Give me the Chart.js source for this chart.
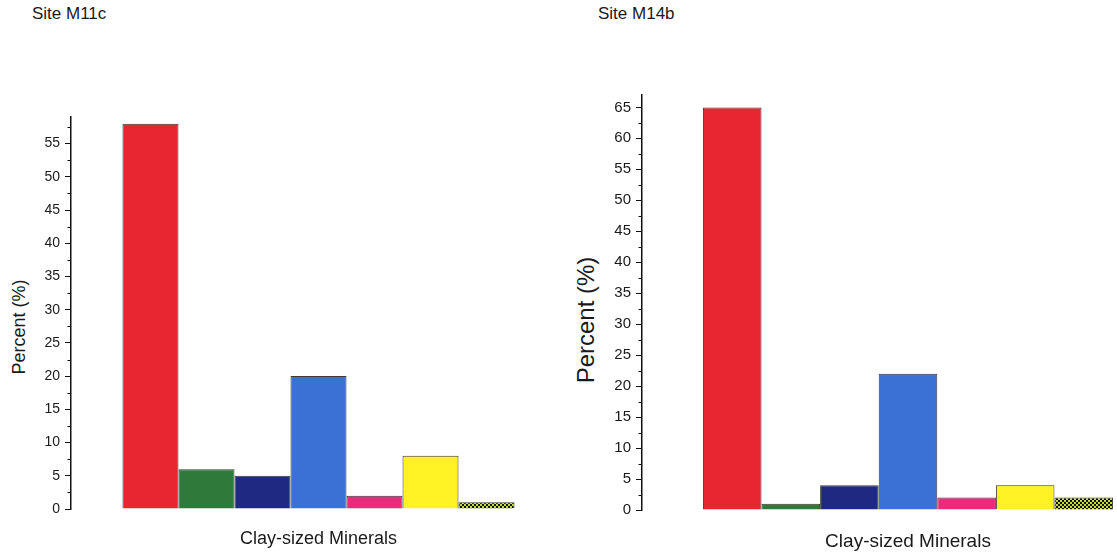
<!DOCTYPE html>
<html>
<head>
<meta charset="utf-8">
<title>Clay-sized Minerals</title>
<script src="https://cdn.jsdelivr.net/npm/chart.js@4.4.1/dist/chart.umd.min.js"></script>
<style>
  html, body { margin: 0; padding: 0; background: #fff; overflow: hidden; }
  body { width: 1117px; height: 554px; position: relative; font-family: "Liberation Sans", Arial, sans-serif; color: #1a1a1a; }
  canvas { position: absolute; top: 0; }
  #m11c { left: 0; }
  #m14b { left: 560px; }
  .site { position: absolute; top: 4px; font-size: 17px; }
  .ytitle { position: absolute; white-space: nowrap; transform: translate(-50%, -50%) rotate(-90deg); }
</style>
</head>
<body>
<div class="site" style="left:32px">Site M11c</div>
<div class="site" style="left:598px">Site M14b</div>
<div class="ytitle" style="left:19px; top:327px; font-size:18px">Percent (%)</div>
<div class="ytitle" style="left:586px; top:320px; font-size:24px">Percent (%)</div>
<canvas id="m11c" width="570" height="554"></canvas>
<canvas id="m14b" width="620" height="554"></canvas>
<script>
// Mineral percentages per site (seven clay-sized mineral classes)
const categories = ['Clay-sized Minerals'];
const mineralNames = ['Mineral A', 'Mineral B', 'Mineral C', 'Mineral D', 'Mineral E', 'Mineral F', 'Mineral G'];
const m11cValues = [58, 6, 5, 20, 2, 8, 1];
const m14bValues = [65, 1, 4, 22, 2, 4, 2];
const m11cAxisMax = 59;
const m14bAxisMax = 67;

// Fill colours, one per mineral class
function dottedPattern() {
  const c = document.createElement('canvas');
  c.width = 4; c.height = 4;
  const g = c.getContext('2d');
  g.fillStyle = '#111111';
  g.fillRect(0, 0, 4, 4);
  g.fillStyle = '#c4dc3c';
  g.fillRect(0, 0, 2, 2);
  g.fillRect(2, 2, 2, 2);
  return g.createPattern(c, 'repeat');
}
const fills = ['#e8262f', '#2e7a3b', '#1e2a82', '#3b70d4', '#ec2a7c', '#fff124', dottedPattern()];

// Half-step minor ticks on the value axis
const minorTicks = {
  id: 'minorTicks',
  afterDraw(chart) {
    const y = chart.scales.y;
    const ctx = chart.ctx;
    const x0 = chart.chartArea.left;
    ctx.save();
    ctx.strokeStyle = '#111';
    ctx.lineWidth = 1;
    for (let v = 2.5; v < y.max; v += 5) {
      const py = Math.round(y.getPixelForValue(v)) + 0.5;
      ctx.beginPath();
      ctx.moveTo(x0 - 3.5, py);
      ctx.lineTo(x0, py);
      ctx.stroke();
    }
    ctx.restore();
  }
};

function makeChart(id, values, axisMax, cfg) {
  return new Chart(document.getElementById(id), {
    type: 'bar',
    data: {
      labels: categories,
      datasets: values.map((v, i) => ({
        label: mineralNames[i],
        data: [v],
        backgroundColor: fills[i],
        borderColor: '#3a3a3a',
        borderWidth: 1,
        borderSkipped: 'start'
      }))
    },
    options: {
      responsive: false,
      animation: false,
      devicePixelRatio: 1,
      categoryPercentage: cfg.catPct,
      barPercentage: 1,
      layout: { padding: { left: 0, right: cfg.padRight, top: cfg.top, bottom: 0 } },
      plugins: { legend: { display: false }, tooltip: { enabled: false } },
      scales: {
        x: {
          grid: { display: false },
          border: { display: false },
          ticks: {
            color: '#1a1a1a',
            padding: cfg.xPad,
            font: { family: 'Liberation Sans', size: cfg.xFont }
          },
          afterFit(s) { s.height = cfg.xHeight; }
        },
        y: {
          min: 0,
          max: axisMax,
          grid: {
            drawOnChartArea: false,
            drawTicks: true,
            tickLength: 6,
            color: '#111',
            tickWidth: 1
          },
          border: { display: true, color: '#111', width: 1.5 },
          ticks: {
            stepSize: 5,
            includeBounds: false,
            color: '#1a1a1a',
            padding: 5,
            font: { family: 'Liberation Sans', size: cfg.yFont }
          },
          afterFit(s) { s.width = cfg.yWidth; }
        }
      }
    },
    plugins: [minorTicks]
  });
}

makeChart('m11c', m11cValues, m11cAxisMax, {
  catPct: 0.792, padRight: 4, top: 117, xHeight: 45, xPad: 11, xFont: 18, yFont: 14, yWidth: 71
});
makeChart('m14b', m14bValues, m14bAxisMax, {
  catPct: 0.771, padRight: 6, top: 95, xHeight: 44, xPad: 12, xFont: 19, yFont: 15, yWidth: 82
});
</script>
</body>
</html>
